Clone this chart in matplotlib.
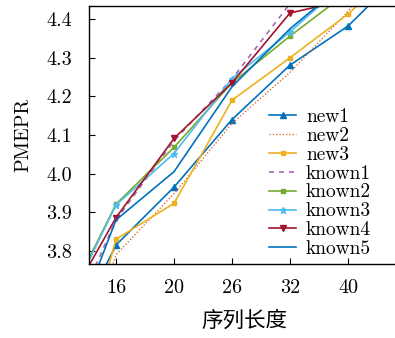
import matplotlib
matplotlib.use("Agg")
import matplotlib.pyplot as plt
from matplotlib.ticker import FormatStrFormatter

# ---- data (outer points fall outside the view) ----
lengths = ['12', '16', '20', '26', '32', '40', '48']
pos = [-1, 0, 1, 2, 3, 4, 5]

new1 = [3.515, 3.815, 3.965, 4.140, 4.281, 4.382, 4.53]
new2 = [3.34, 3.790, 3.948, 4.130, 4.262, 4.420, 4.62]
new3 = [3.29, 3.830, 3.923, 4.190, 4.300, 4.413, 4.55]
known1 = [3.545, 3.880, 4.085, 4.245, 4.440, 4.49, 4.53]
known2 = [3.62, 3.921, 4.068, 4.235, 4.356, 4.47, 4.55]
known3 = [3.61, 3.919, 4.052, 4.246, 4.367, 4.50, 4.58]
known4 = [3.62, 3.886, 4.091, 4.235, 4.416, 4.45, 4.49]
known5 = [3.49, 3.880, 4.005, 4.225, 4.375, 4.50, 4.58]

plt.rcParams['font.family'] = 'serif'
plt.rcParams['font.serif'] = ['cmr10', 'DejaVu Serif']
plt.rcParams['mathtext.fontset'] = 'cm'
plt.rcParams['axes.formatter.use_mathtext'] = True

fig = plt.figure(figsize=(3.95, 3.38), dpi=100)
ax = fig.add_axes([89 / 395, (338 - 264) / 338, (400 - 89) / 395, (264 - 6) / 338])

lw = 1.2
ax.plot(pos, new1, color='#0072BD', lw=lw, marker='^', ms=4.5, label='new1')
ax.plot(pos, new2, color='#D95319', lw=0.9, ls=':', label='new2')
ax.plot(pos, new3, color='#EDB120', lw=lw, marker='s', ms=2.5, label='new3')
ax.plot(pos, known1, color='#7E2F8E', lw=lw, ls='--', dashes=(3, 3), alpha=0.7, label='known1')
ax.plot(pos, known2, color='#77AC30', lw=lw, marker='s', ms=3, label='known2')
ax.plot(pos, known3, color='#4DBEEE', lw=lw, marker='*', ms=5, label='known3')
ax.plot(pos, known4, color='#A2142F', lw=lw, marker='v', ms=4.5, label='known4')
ax.plot(pos, known5, color='#0072BD', lw=lw, label='known5')

ax.set_xlim(-27 / 58, (400 - 116) / 58)
ax.set_ylim(3.766, 4.434)
ax.set_xticks(pos[1:6])
ax.set_xticklabels(lengths[1:6])
ax.set_yticks([3.8, 3.9, 4.0, 4.1, 4.2, 4.3, 4.4])
ax.yaxis.set_major_formatter(FormatStrFormatter('%.1f'))
ax.tick_params(direction='in', length=4, width=0.8, labelsize=14.5,
               top=False, right=False)
ax.tick_params(axis='x', pad=11)
ax.tick_params(axis='y', pad=12)
for s in ax.spines.values():
    s.set_linewidth(1.0)

ax.set_ylabel('PMEPR', fontsize=14.5, labelpad=10)
ax.set_xlabel('序列长度', fontsize=15.5, family=['Noto Sans CJK SC'], labelpad=9)

ax.legend(loc='upper left', bbox_to_anchor=(180 / 311, 1 - 102 / 258), frameon=False,
          fontsize=14, handlelength=1.4, handletextpad=0.5, labelspacing=0.05,
          borderaxespad=0, borderpad=0)

fig.savefig('out.png', dpi=100)
